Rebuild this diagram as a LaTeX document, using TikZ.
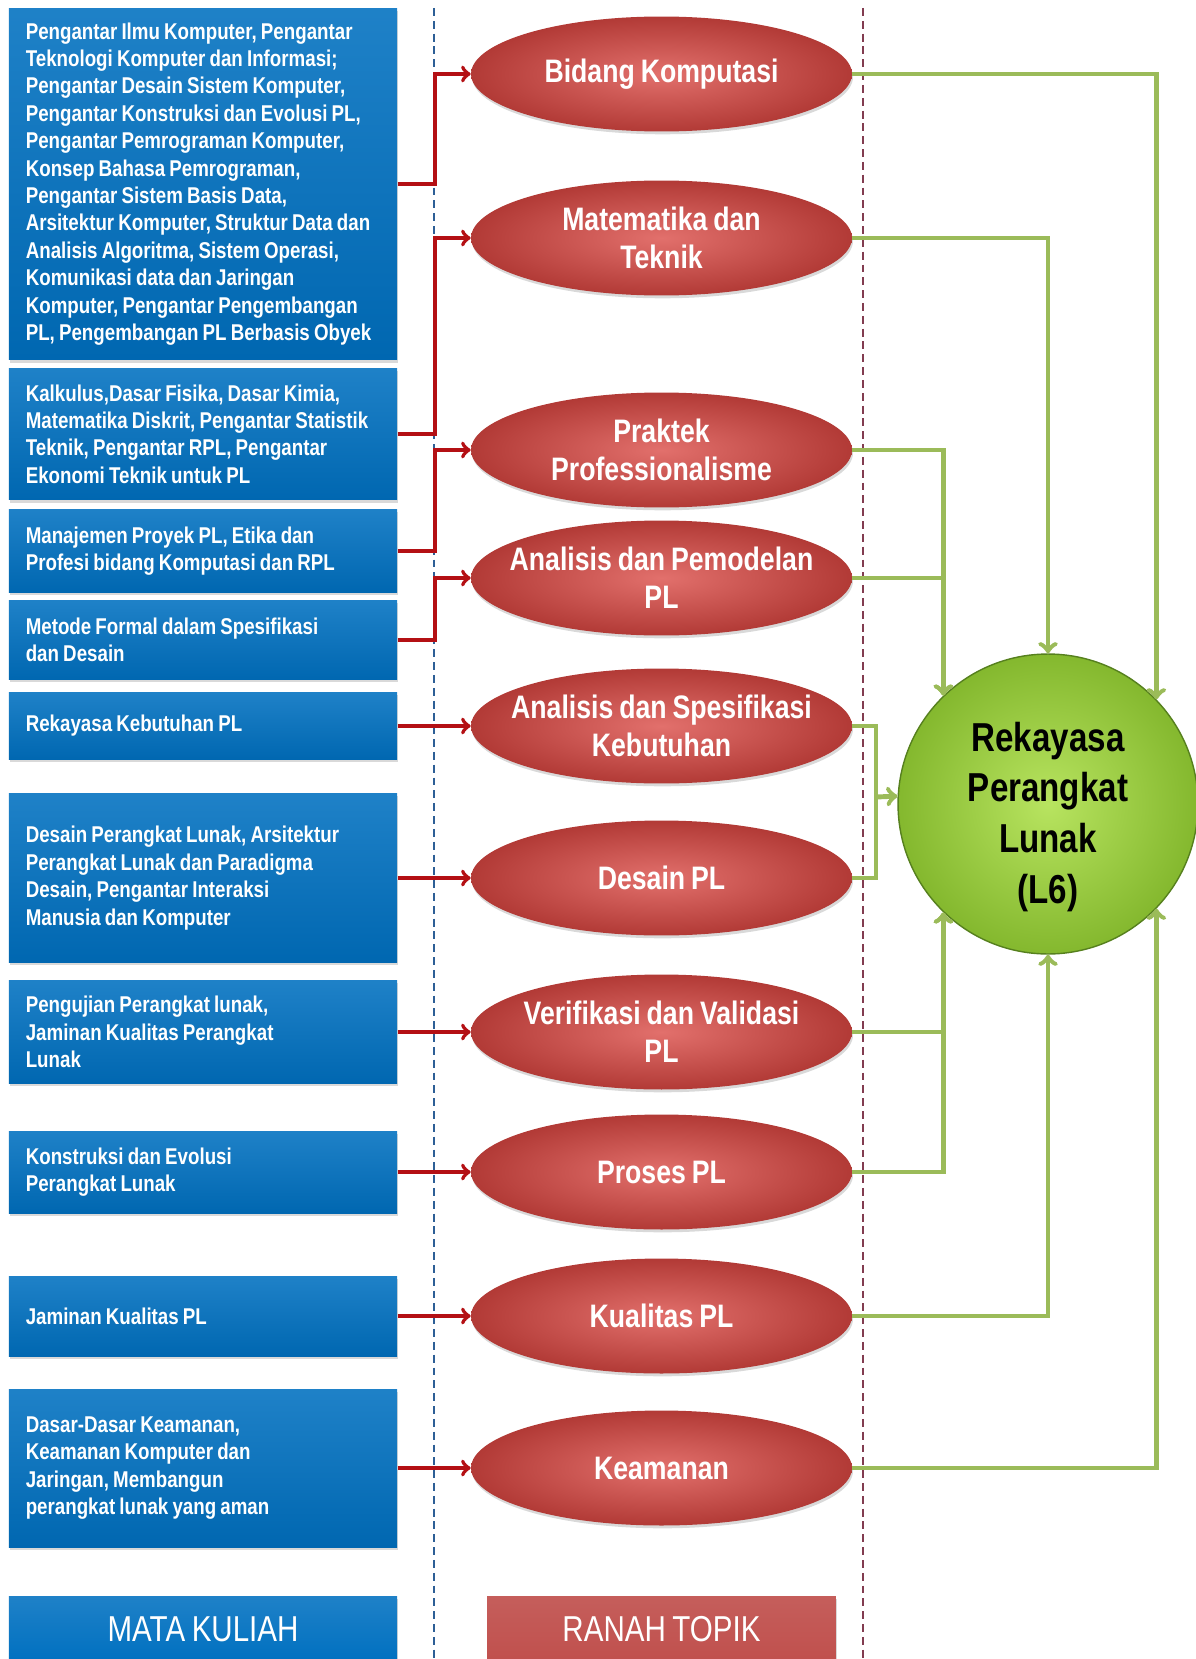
\documentclass[tikz,border=0pt]{standalone}
\usepackage{fontspec}
\setmainfont{Liberation Sans}[FakeStretch=0.82,WordSpace=0.8]
\usetikzlibrary{shapes.geometric,shadows}
\definecolor{mkblue}{RGB}{0,112,192}
\definecolor{rtred}{RGB}{192,80,77}
\definecolor{rtdark}{RGB}{178,58,54}
\definecolor{rtlight}{RGB}{226,112,108}
\definecolor{arrred}{RGB}{180,16,20}
\definecolor{lgreen}{RGB}{155,187,89}
\definecolor{cinner}{RGB}{184,228,96}
\definecolor{couter}{RGB}{132,184,46}
\definecolor{cedge}{RGB}{86,128,30}
\definecolor{dashblue}{RGB}{45,95,150}
\definecolor{dashred}{RGB}{130,60,80}
\begin{document}
\begin{tikzpicture}[x=0.02cm,y=-0.02cm,
  matkul/.style={rectangle, top color=mkblue!88!white, bottom color=mkblue!92!black,
    text=white, font=\fontsize{13}{15.6}\selectfont\bfseries,
    text width=7.09cm, inner xsep=0.34cm, inner ysep=0pt, align=flush left,
    drop shadow={opacity=0.3, shadow xshift=0.6pt, shadow yshift=-1.6pt}},
  topik/.style={ellipse, minimum width=7.62cm, minimum height=2.3cm, inner sep=0pt,
    inner color=rtlight, outer color=rtdark,
    drop shadow={opacity=0.3, shadow xshift=0.6pt, shadow yshift=-1.6pt}},
  topiktext/.style={text=white, font=\fontsize{18.5}{21.6}\selectfont\bfseries,
    align=center, inner sep=0pt},
  judul/.style={rectangle, minimum height=1.32cm, inner sep=0pt, text=white,
    font=\fontsize{20.5}{24}\selectfont,
    drop shadow={opacity=0.3, shadow xshift=0.6pt, shadow yshift=-1.6pt}},
  inti/.style={circle, minimum size=6cm, inner sep=0pt, inner color=cinner,
    outer color=couter, draw=cedge, line width=0.8pt},
  intitext/.style={align=center, inner sep=0pt,
    font=\fontsize{23}{29}\selectfont\bfseries},
  mkline/.style={->, arrred, line width=2.3pt},
  rpline/.style={->, lgreen, line width=2.8pt},
  batas/.style={line width=1.6pt, dash pattern=on 4.5pt off 2.8pt}]
\useasboundingbox (0,0) rectangle (1196,1659);
\draw[batas, dashblue] (434,8) -- (434,1659);
\draw[batas, dashred] (863,8) -- (863,1659);

\node[matkul, minimum height=7.03cm] (mk1) at (203,184) {Pengantar Ilmu Komputer, Pengantar\\Teknologi Komputer dan Informasi;\\Pengantar Desain Sistem Komputer,\\Pengantar Konstruksi dan Evolusi PL,\\Pengantar Pemrograman Komputer,\\Konsep Bahasa Pemrograman,\\Pengantar Sistem Basis Data,\\Arsitektur Komputer, Struktur Data dan\\Analisis Algoritma, Sistem Operasi,\\Komunikasi data dan Jaringan\\Komputer, Pengantar Pengembangan\\PL, Pengembangan PL Berbasis Obyek};
\node[matkul, minimum height=2.64cm] (mk2) at (203,434) {Kalkulus,Dasar Fisika, Dasar Kimia,\\Matematika Diskrit, Pengantar Statistik\\Teknik, Pengantar RPL, Pengantar\\Ekonomi Teknik untuk PL};
\node[matkul, minimum height=1.66cm] (mk3) at (203,551) {Manajemen Proyek PL, Etika dan\\Profesi bidang Komputasi dan RPL};
\node[matkul, minimum height=1.58cm] (mk4) at (203,640) {Metode Formal dalam Spesifikasi\\dan Desain};
\node[matkul, minimum height=1.34cm] (mk5) at (203,726) {Rekayasa Kebutuhan PL};
\node[matkul, minimum height=3.38cm] (mk6) at (203,878) {Desain Perangkat Lunak, Arsitektur\\Perangkat Lunak dan Paradigma\\Desain, Pengantar Interaksi\\Manusia dan Komputer};
\node[matkul, minimum height=2.06cm] (mk7) at (203,1032) {Pengujian Perangkat lunak,\\Jaminan Kualitas Perangkat\\Lunak};
\node[matkul, minimum height=1.64cm] (mk8) at (203,1172) {Konstruksi dan Evolusi\\Perangkat Lunak};
\node[matkul, minimum height=1.6cm] (mk9) at (203,1316) {Jaminan Kualitas PL};
\node[matkul, minimum height=3.16cm] (mk10) at (203,1468) {Dasar-Dasar Keamanan,\\Keamanan Komputer dan\\Jaringan, Membangun\\perangkat lunak yang aman};

\node[topik] (rt1) at (661.5,74) {};
\node[topik] (rt2) at (661.5,238) {};
\node[topik] (rt3) at (661.5,450) {};
\node[topik] (rt4) at (661.5,578) {};
\node[topik] (rt5) at (661.5,726) {};
\node[topik] (rt6) at (661.5,878) {};
\node[topik] (rt7) at (661.5,1032) {};
\node[topik] (rt8) at (661.5,1172) {};
\node[topik] (rt9) at (661.5,1316) {};
\node[topik] (rt10) at (661.5,1468) {};
\node[topiktext] (rt1t) at (rt1) {Bidang Komputasi};
\node[topiktext] (rt2t) at (rt2) {Matematika dan\\Teknik};
\node[topiktext] (rt3t) at (rt3) {Praktek\\Professionalisme};
\node[topiktext] (rt4t) at (rt4) {Analisis dan Pemodelan\\PL};
\node[topiktext] (rt5t) at (rt5) {Analisis dan Spesifikasi\\Kebutuhan};
\node[topiktext] (rt6t) at (rt6) {Desain PL};
\node[topiktext] (rt7t) at (rt7) {Verifikasi dan Validasi\\PL};
\node[topiktext] (rt8t) at (rt8) {Proses PL};
\node[topiktext] (rt9t) at (rt9) {Kualitas PL};
\node[topiktext] (rt10t) at (rt10) {Keamanan};

\node[judul, minimum width=7.77cm, top color=mkblue!88!white, bottom color=mkblue] (mkhead) at (203,1629) {MATA KULIAH};
\node[judul, minimum width=6.98cm, top color=rtred!92!white, bottom color=rtred] (rthead) at (661.5,1629) {RANAH TOPIK};

\node[inti] (rpl) at (1048,804) {};
\node[intitext] (rplt) at ([yshift=-0.26cm]rpl.center) {Rekayasa\\Perangkat\\Lunak\\(L6)};

\draw[mkline] (mk1.east) -- ++(37,0) |- (rt1.west);
\draw[mkline] (mk2.east) -- ++(37,0) |- (rt2.west);
\draw[mkline] (mk3.east) -- ++(37,0) |- (rt3.west);
\draw[mkline] (mk4.east) -- ++(37,0) |- (rt4.west);
\draw[mkline] (mk5.east) -- (rt5.west);
\draw[mkline] (mk6.east) -- (rt6.west);
\draw[mkline] (mk7.east) -- (rt7.west);
\draw[mkline] (mk8.east) -- (rt8.west);
\draw[mkline] (mk9.east) -- (rt9.west);
\draw[mkline] (mk10.east) -- (rt10.west);

\coordinate (sj) at (876,797);
\draw[rpline] (rt1.east) -| (rpl.44);
\draw[rpline] (rt2.east) -| (rpl.north);
\draw[rpline] (rt3.east) -| (rpl.134);
\draw[rpline] (rt4.east) -| (rpl.134);
\draw[rpline,-] (rt5.east) -| (sj);
\draw[rpline,-] (rt6.east) -| (sj);
\draw[rpline] (sj) -- (rpl.177);
\draw[rpline] (rt7.east) -| (rpl.226);
\draw[rpline] (rt8.east) -| (rpl.226);
\draw[rpline] (rt9.east) -| (rpl.south);
\draw[rpline] (rt10.east) -| (rpl.316);
\end{tikzpicture}
\end{document}
